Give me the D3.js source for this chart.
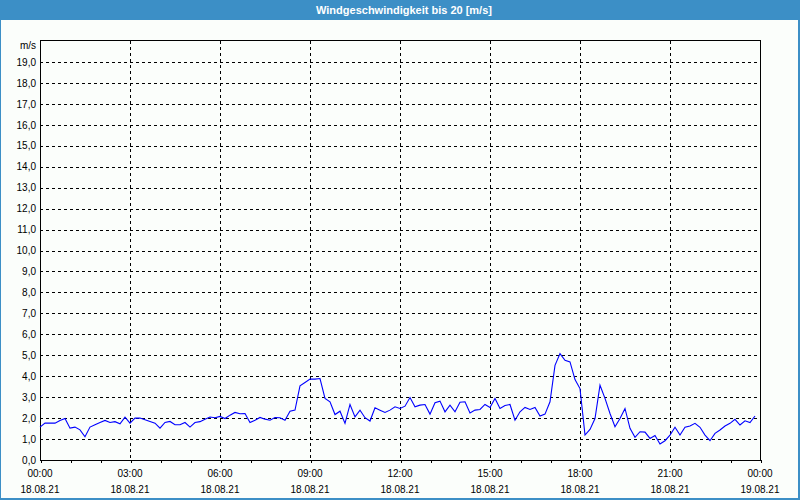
<!DOCTYPE html>
<html><head><meta charset="utf-8">
<script src="https://cdn.jsdelivr.net/npm/d3@7"></script>
<style>
html,body{margin:0;padding:0;background:#fff;}
svg{display:block;}
text{font-family:"Liberation Sans",Arial,sans-serif;}
</style></head>
<body>
<svg id="c" width="800" height="500"></svg>
<script>
const title = "Windgeschwindigkeit bis 20 [m/s]";
const unitLabel = "m/s";
const startTime = "2021-08-18T00:00:00";
const endTime = "2021-08-19T00:00:00";
const stepMinutes = 10;
// wind speed, m/s, every 10 minutes
const windValues = [
 1.57,1.76,1.76,1.76,1.89,1.98,1.52,1.57,1.44,1.11,1.57,1.68,
 1.79,1.89,1.79,1.83,1.73,2.05,1.76,2.00,2.00,1.92,1.84,1.76,
 1.52,1.79,1.84,1.68,1.68,1.79,1.57,1.79,1.83,1.95,2.05,2.02,
 2.08,1.98,2.14,2.27,2.21,2.22,1.79,1.90,2.03,1.95,1.90,2.03,
 2.02,1.90,2.33,2.38,3.54,3.70,3.86,3.86,3.89,2.94,2.78,2.17,
 2.33,1.75,2.65,2.06,2.38,2.02,1.86,2.49,2.38,2.27,2.38,2.54,
 2.46,2.57,2.98,2.54,2.62,2.65,2.19,2.73,2.81,2.30,2.62,2.30,
 2.76,2.78,2.25,2.38,2.41,2.65,2.51,2.94,2.46,2.60,2.65,1.90,
 2.30,2.51,2.41,2.51,2.10,2.19,2.78,4.52,5.08,4.76,4.68,3.84,
 3.41,1.19,1.46,1.98,3.57,2.94,2.22,1.59,1.98,2.46,1.51,1.08,
 1.35,1.33,1.03,1.17,0.76,0.92,1.19,1.56,1.19,1.56,1.62,1.75,
 1.56,1.19,0.92,1.27,1.43,1.62,1.75,1.94,1.67,1.87,1.79,2.10
];
const yTicks = [0,1,2,3,4,5,6,7,8,9,10,11,12,13,14,15,16,17,18,19];
const yMax = 20;

const svg = d3.select("#c");
const W = 800, H = 500;
const m = {left:40, right:40, top:41, bottom:40};

// frame
svg.append("rect").attr("x",0).attr("y",0).attr("width",W).attr("height",H).attr("fill","#3c8fc6");
svg.append("rect").attr("x",1).attr("y",20).attr("width",W-3).attr("height",H-22).attr("fill","#fbfefb");
svg.append("text").attr("x",W/2+4).attr("y",14).attr("text-anchor","middle")
  .attr("fill","#fff").attr("font-size","11px").attr("font-weight","bold").text(title);

const parse = d3.isoParse;
const t0 = parse(startTime), t1 = parse(endTime);
const data = windValues.map((v,i)=>({t:new Date(+t0 + i*stepMinutes*60000), v}));

const x = d3.scaleTime().domain([t0,t1]).range([m.left, W-m.right]);
const y = d3.scaleLinear().domain([0,yMax]).range([H-m.bottom, m.top]);

const g = svg.append("g");
// horizontal grid
g.selectAll("line.hg").data(yTicks.filter(d=>d>0)).join("line")
  .attr("x1",m.left).attr("x2",W-m.right)
  .attr("y1",d=>Math.round(y(d))+0.5).attr("y2",d=>Math.round(y(d))+0.5)
  .attr("stroke","#000").attr("stroke-dasharray","3,3").attr("shape-rendering","crispEdges");
// vertical grid every 3h
const majors = d3.timeHour.every(3).range(t0, t1).filter(d=>+d>+t0);
g.selectAll("line.vg").data(majors).join("line")
  .attr("y1",m.top).attr("y2",H-m.bottom)
  .attr("x1",d=>Math.round(x(d))+0.5).attr("x2",d=>Math.round(x(d))+0.5)
  .attr("stroke","#000").attr("stroke-dasharray","3,3").attr("shape-rendering","crispEdges");

// plot border
svg.append("rect").attr("x",m.left+0.5).attr("y",m.top-0.5)
  .attr("width",W-m.left-m.right).attr("height",H-m.bottom-m.top+0.5)
  .attr("fill","none").attr("stroke","#000").attr("shape-rendering","crispEdges");

// y axis labels
const yAxis = d3.axisLeft(y).tickValues(yTicks).tickSize(0).tickPadding(4)
  .tickFormat(d=>d3.format(".1f")(d).replace(".",","));
const ya = svg.append("g").attr("transform",`translate(${m.left},0)`).call(yAxis);
ya.select(".domain").remove();
ya.selectAll("text").attr("font-size","10px").attr("fill","#000").attr("font-family","Liberation Sans, Arial, sans-serif");
svg.append("text").attr("x",m.left-4).attr("y",49).attr("text-anchor","end")
  .attr("font-size","10px").text(unitLabel);

// x axis: hourly small ticks, labels every 3h
const xAxisMinor = d3.axisBottom(x).ticks(d3.timeHour.every(1)).tickSize(3).tickFormat("");
const xm = svg.append("g").attr("transform",`translate(0.5,${H-m.bottom})`).call(xAxisMinor);
xm.select(".domain").remove();
xm.selectAll("line").attr("shape-rendering","crispEdges");

const labelTicks = d3.timeHour.every(3).range(t0, d3.timeMinute.offset(t1,1));
const fTime = d3.timeFormat("%H:%M"), fDate = d3.timeFormat("%d.%m.%y");
const xl = svg.append("g");
xl.selectAll("text.t").data(labelTicks).join("text")
  .attr("x",d=>x(d)).attr("y",H-m.bottom+17).attr("text-anchor","middle")
  .attr("font-size","10px").text(d=>fTime(d));
xl.selectAll("text.d").data(labelTicks).join("text")
  .attr("x",d=>x(d)).attr("y",H-m.bottom+33).attr("text-anchor","middle")
  .attr("font-size","10px").text(d=>fDate(d));

// line
const line = d3.line().x(d=>x(d.t)).y(d=>y(d.v));
svg.append("path").datum(data).attr("d",line).attr("fill","none")
  .attr("stroke","#0000ff").attr("stroke-width",1.1);
</script>
</body></html>
